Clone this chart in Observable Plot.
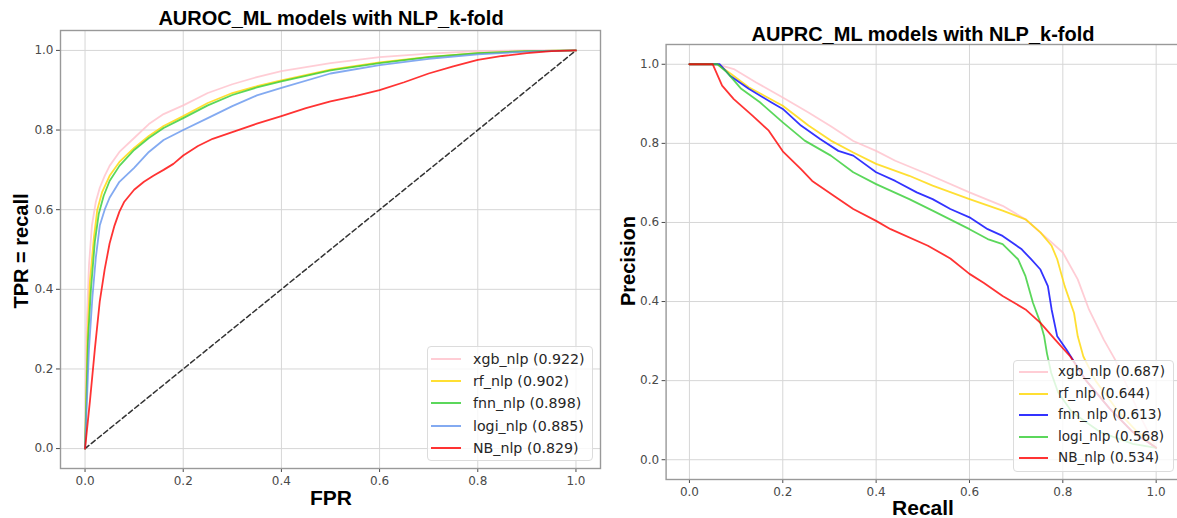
<!DOCTYPE html>
<html><head><meta charset="utf-8">
<script src="https://cdn.jsdelivr.net/npm/d3@7"></script>
<script src="https://cdn.jsdelivr.net/npm/@observablehq/plot@0.6"></script>
<style>
html,body{margin:0;padding:0;background:#fff;overflow:hidden;}
#root{position:relative;width:1177px;height:518px;overflow:hidden;background:#fff;}
#root svg{position:absolute;top:0;}
.t{position:absolute;font-family:"Liberation Sans",Arial,sans-serif;font-weight:bold;color:#000;white-space:nowrap;line-height:1;transform:translate(-50%,-50%);}
.leg{position:absolute;background:rgba(255,255,255,0.8);border:1px solid #dcdcdc;border-radius:4px;font-family:"DejaVu Sans",sans-serif;color:#262626;box-sizing:border-box;}
.row{position:absolute;left:0;right:0;height:0;}
.sw{position:absolute;height:0;border-top:2px solid;top:-1px;}
.lt{position:absolute;white-space:nowrap;line-height:1;transform:translateY(-50%);top:0;}
</style>
</head><body>
<div id="root"></div>
<script>
// ---- data ----
const modelLabels = ["xgb_nlp", "rf_nlp", "fnn_nlp", "logi_nlp", "NB_nlp"];
const rocAuc = [0.922, 0.902, 0.898, 0.885, 0.829];
const prAuc  = [0.687, 0.644, 0.613, 0.568, 0.534];
const rocColors = ["pink", "gold", "limegreen", "cornflowerblue", "red"];
const prColors  = ["pink", "gold", "blue", "limegreen", "red"];
const xTicks = [0, 0.2, 0.4, 0.6, 0.8, 1.0];
const yTicks = [0, 0.2, 0.4, 0.6, 0.8, 1.0];
const chanceLine = [0, 1];

// ROC: [FPR, TPR]
const rocXgb = [[0,0],[0.003,0.30],[0.008,0.46],[0.014,0.56],[0.022,0.62],[0.03,0.655],[0.04,0.685],[0.05,0.71],[0.07,0.745],[0.1,0.78],[0.13,0.815],[0.16,0.84],[0.2,0.862],[0.25,0.893],[0.3,0.915],[0.35,0.933],[0.4,0.948],[0.5,0.968],[0.6,0.983],[0.7,0.992],[0.8,0.998],[0.9,1],[1,1]];
const rocRf = [[0,0],[0.005,0.28],[0.01,0.42],[0.018,0.53],[0.025,0.6],[0.035,0.645],[0.05,0.685],[0.07,0.72],[0.1,0.755],[0.13,0.785],[0.16,0.81],[0.2,0.835],[0.25,0.868],[0.3,0.893],[0.35,0.91],[0.4,0.925],[0.5,0.952],[0.6,0.97],[0.7,0.984],[0.8,0.993],[0.9,0.998],[1,1]];
const rocFnn = [[0,0],[0.006,0.27],[0.012,0.4],[0.02,0.52],[0.028,0.59],[0.038,0.635],[0.05,0.672],[0.07,0.71],[0.1,0.75],[0.13,0.78],[0.16,0.805],[0.2,0.83],[0.25,0.862],[0.3,0.888],[0.35,0.907],[0.4,0.922],[0.5,0.95],[0.6,0.968],[0.7,0.983],[0.8,0.993],[0.9,0.998],[1,1]];
const rocLogi = [[0,0],[0.008,0.25],[0.015,0.38],[0.022,0.48],[0.03,0.56],[0.04,0.6],[0.05,0.63],[0.07,0.67],[0.1,0.705],[0.13,0.745],[0.16,0.775],[0.2,0.8],[0.25,0.83],[0.3,0.86],[0.35,0.887],[0.4,0.906],[0.5,0.942],[0.6,0.963],[0.7,0.979],[0.8,0.99],[0.9,0.997],[1,1]];
const rocNb = [[0,0],[0.005,0.06],[0.01,0.12],[0.02,0.25],[0.03,0.37],[0.04,0.45],[0.05,0.515],[0.06,0.56],[0.07,0.595],[0.08,0.62],[0.1,0.65],[0.12,0.67],[0.14,0.686],[0.16,0.7],[0.18,0.715],[0.2,0.736],[0.23,0.76],[0.26,0.778],[0.3,0.795],[0.35,0.816],[0.4,0.835],[0.45,0.855],[0.5,0.872],[0.55,0.885],[0.6,0.9],[0.65,0.92],[0.7,0.942],[0.75,0.96],[0.8,0.976],[0.85,0.986],[0.9,0.993],[0.95,0.998],[1,1]];

// PR: [Recall, Precision]
const prXgb = [[0,1],[0.06,1],[0.095,0.988],[0.143,0.954],[0.2,0.916],[0.255,0.878],[0.303,0.843],[0.351,0.806],[0.4,0.781],[0.441,0.756],[0.511,0.722],[0.6,0.676],[0.671,0.642],[0.72,0.608],[0.768,0.558],[0.8,0.524],[0.808,0.507],[0.832,0.456],[0.856,0.38],[0.888,0.303],[0.912,0.253],[0.94,0.18],[0.97,0.1],[1,0.03]];
const prRf = [[0,1],[0.06,1],[0.09,0.975],[0.127,0.942],[0.2,0.895],[0.255,0.845],[0.303,0.807],[0.351,0.777],[0.4,0.748],[0.471,0.718],[0.521,0.693],[0.6,0.659],[0.671,0.63],[0.72,0.608],[0.752,0.575],[0.776,0.541],[0.788,0.507],[0.804,0.439],[0.824,0.371],[0.832,0.312],[0.844,0.261],[0.87,0.2],[0.92,0.12],[0.96,0.07],[1,0.03]];
const prFnn = [[0,1],[0.065,1],[0.087,0.971],[0.127,0.938],[0.175,0.904],[0.2,0.887],[0.239,0.845],[0.28,0.811],[0.319,0.781],[0.351,0.769],[0.4,0.727],[0.441,0.705],[0.487,0.676],[0.521,0.659],[0.559,0.634],[0.6,0.613],[0.639,0.583],[0.671,0.566],[0.712,0.532],[0.732,0.507],[0.752,0.481],[0.768,0.439],[0.776,0.38],[0.788,0.312],[0.808,0.278],[0.85,0.2],[0.9,0.13],[0.95,0.07],[1,0.03]];
const prLogi = [[0,1],[0.06,1],[0.08,0.98],[0.111,0.938],[0.151,0.904],[0.2,0.853],[0.247,0.807],[0.303,0.769],[0.351,0.727],[0.4,0.697],[0.471,0.659],[0.521,0.63],[0.6,0.583],[0.639,0.558],[0.671,0.545],[0.704,0.507],[0.72,0.464],[0.736,0.397],[0.752,0.346],[0.76,0.312],[0.766,0.269],[0.775,0.22],[0.79,0.17],[0.82,0.12],[0.88,0.07],[0.95,0.04],[1,0.03]];
const prNb = [[0,1],[0.05,1],[0.07,0.946],[0.095,0.912],[0.135,0.87],[0.17,0.832],[0.2,0.78],[0.239,0.735],[0.263,0.705],[0.31,0.667],[0.351,0.634],[0.4,0.604],[0.431,0.583],[0.511,0.541],[0.559,0.509],[0.6,0.47],[0.631,0.447],[0.671,0.414],[0.72,0.38],[0.752,0.346],[0.784,0.303],[0.816,0.261],[0.85,0.2],[0.9,0.13],[0.95,0.07],[1,0.03]];

const rocSeries = [rocXgb, rocRf, rocFnn, rocLogi, rocNb];
const prSeries = [prXgb, prRf, prFnn, prLogi, prNb];

// ---- drawing ----
const root = document.getElementById("root");
const LINE_OPACITY = 0.8;

function panel({width, height, mt, mr, mb, ml, series, colors, diag}) {
  const marks = [
    Plot.ruleX(xTicks, {x: d => d, stroke: "#d6d6d6", strokeWidth: 1}),
    Plot.ruleY(yTicks, {y: d => d, stroke: "#d6d6d6", strokeWidth: 1}),
  ];
  if (diag) marks.push(Plot.line(chanceLine, {x: d => d, y: d => d, stroke: "#333", strokeWidth: 1.5, strokeDasharray: "5,3"}));
  series.forEach((s, i) => marks.push(Plot.line(s, {x: d => d[0], y: d => d[1], stroke: colors[i], strokeOpacity: LINE_OPACITY, strokeWidth: 1.8})));
  marks.push(Plot.frame({stroke: "#999", strokeWidth: 1.4}));
  return Plot.plot({
    width, height, marginTop: mt, marginRight: mr, marginBottom: mb, marginLeft: ml,
    x: {domain: [-0.05, 1.05], ticks: xTicks, tickFormat: d3.format(".1f"), tickSize: 4, tickPadding: 4, label: null},
    y: {domain: [-0.05, 1.05], ticks: yTicks, tickFormat: d3.format(".1f"), tickSize: 4, tickPadding: 3, label: null},
    style: {fontFamily: "DejaVu Sans, sans-serif", fontSize: "12px", color: "#4a4a4a", background: "transparent", overflow: "visible"},
    marks
  });
}

const left = panel({width: 601, height: 518, mt: 30, mr: 1, mb: 50, ml: 60, series: rocSeries, colors: rocColors, diag: true});
left.style.left = "0px";
root.appendChild(left);

const right = panel({width: 580, height: 518, mt: 44, mr: 1, mb: 39, ml: 65.6, series: prSeries, colors: prColors, diag: false});
right.style.left = "600px";
root.appendChild(right);

function text(str, x, y, size, rotate) {
  const d = document.createElement("div");
  d.className = "t";
  d.textContent = str;
  d.style.left = x + "px";
  d.style.top = y + "px";
  d.style.fontSize = size + "px";
  if (rotate) d.style.transform = "translate(-50%,-50%) rotate(-90deg)";
  root.appendChild(d);
}
text("AUROC_ML models with NLP_k-fold", 331, 18, 20);
text("AUPRC_ML models with NLP_k-fold", 923, 34, 20);
text("FPR", 331, 497, 21);
text("Recall", 923, 507, 21);
text("TPR = recall", 21, 251, 20, true);
text("Precision", 628, 261, 20, true);

function legend({left, top, width, height, rowTop, rowGap, swX, swW, txX, size, colors, auc}) {
  const box = document.createElement("div");
  box.className = "leg";
  Object.assign(box.style, {left: left + "px", top: top + "px", width: width + "px", height: height + "px", fontSize: size + "px"});
  modelLabels.forEach((lab, i) => {
    const row = document.createElement("div");
    row.className = "row";
    row.style.top = (rowTop + i * rowGap) + "px";
    const sw = document.createElement("div");
    sw.className = "sw";
    Object.assign(sw.style, {left: swX + "px", width: swW + "px", borderTopColor: colors[i], opacity: LINE_OPACITY});
    const tx = document.createElement("div");
    tx.className = "lt";
    tx.style.left = txX + "px";
    tx.textContent = `${lab} (${auc[i].toFixed(3)})`;
    row.appendChild(sw); row.appendChild(tx);
    box.appendChild(row);
  });
  root.appendChild(box);
}
legend({left: 427, top: 346, width: 166, height: 115, rowTop: 12, rowGap: 22.2, swX: 3, swW: 30, txX: 45, size: 14.2, colors: rocColors, auc: rocAuc});
legend({left: 1013, top: 360, width: 161, height: 112, rowTop: 11, rowGap: 21.5, swX: 5, swW: 29, txX: 44, size: 13.6, colors: prColors, auc: prAuc});
</script>
</body></html>
